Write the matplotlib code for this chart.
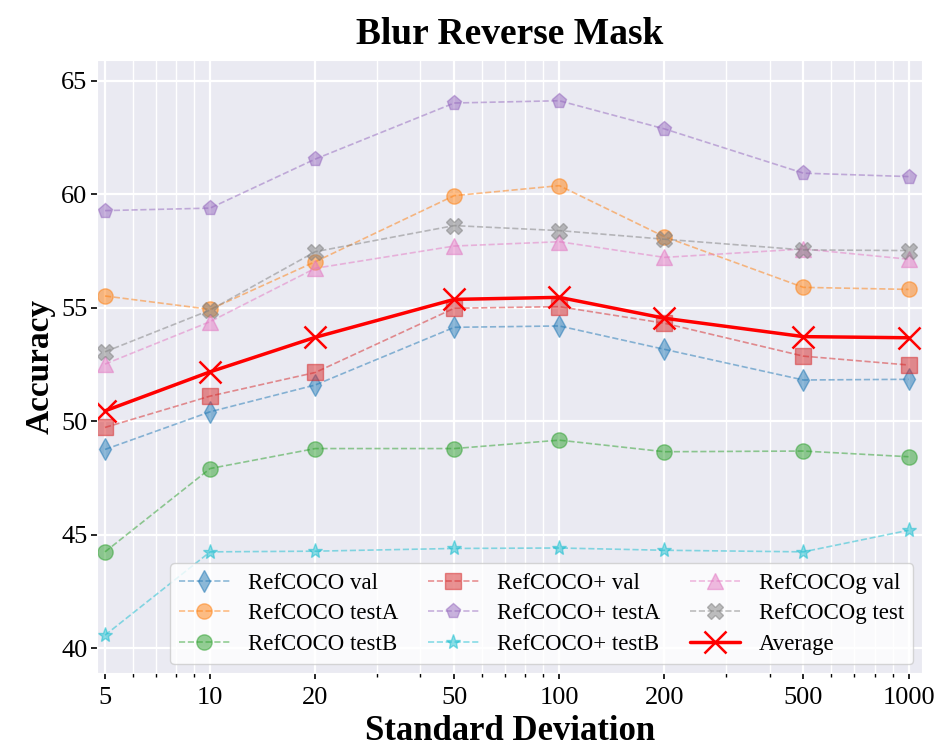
import numpy as np
import matplotlib
matplotlib.use("Agg")
import matplotlib.pyplot as plt
import seaborn as sns
from matplotlib.ticker import FixedLocator, NullFormatter, LogLocator

#------------------------------------------------------------------------------------
# Data
#------------------------------------------------------------------------------------
std_dev = [5, 10, 20, 50, 100, 200, 500, 1000]
tick_labels = ["5", "10", "20", "50", "100", "200", "500", "1000"]

refcoco_val    = [48.76, 50.42, 51.60, 54.14, 54.20, 53.17, 51.82, 51.85]
refcoco_testA  = [55.52, 54.93, 57.03, 59.94, 60.38, 58.13, 55.90, 55.81]
refcoco_testB  = [44.25, 47.92, 48.80, 48.80, 49.17, 48.66, 48.69, 48.44]
refcocop_val   = [49.73, 51.11, 52.15, 54.98, 55.05, 54.32, 52.87, 52.48]
refcocop_testA = [59.28, 59.39, 61.55, 64.02, 64.12, 62.88, 60.93, 60.78]
refcocop_testB = [40.58, 44.25, 44.28, 44.40, 44.42, 44.32, 44.25, 45.20]
refcocog_val   = [52.52, 54.39, 56.74, 57.72, 57.91, 57.22, 57.59, 57.14]
refcocog_test  = [53.06, 54.90, 57.47, 58.62, 58.40, 58.02, 57.55, 57.52]
average        = [50.46, 52.18, 53.70, 55.37, 55.46, 54.54, 53.73, 53.68]

#------------------------------------------------------------------------------------
# Style
#------------------------------------------------------------------------------------
sns.set_style("darkgrid")
plt.rcParams['font.family'] = ['Liberation Serif', 'DejaVu Serif']
plt.rcParams['text.color'] = 'black'
plt.rcParams['axes.labelcolor'] = 'black'
plt.rcParams['xtick.color'] = 'black'
plt.rcParams['ytick.color'] = 'black'

series = [
    ("RefCOCO val",    refcoco_val,    "tab:blue",   "d"),
    ("RefCOCO testA",  refcoco_testA,  "tab:orange", "o"),
    ("RefCOCO testB",  refcoco_testB,  "tab:green",  "o"),
    ("RefCOCO+ val",   refcocop_val,   "tab:red",    "s"),
    ("RefCOCO+ testA", refcocop_testA, "tab:purple", "p"),
    ("RefCOCO+ testB", refcocop_testB, "tab:cyan",   "*"),
    ("RefCOCOg val",   refcocog_val,   "tab:pink",   "^"),
    ("RefCOCOg test",  refcocog_test,  "tab:gray",   "X"),
]

fig = plt.figure(figsize=(9.44, 7.54), dpi=100)
ax = fig.add_axes([0.103, 0.107, 0.874, 0.813])

for name, vals, col, mk in series:
    ax.plot(std_dev, vals, linestyle='--', color=col, marker=mk, markersize=11,
            linewidth=1.2, alpha=0.5, label=name)
ax.plot(std_dev, average, color='red', marker='x', markersize=16, markeredgewidth=1.8,
        linewidth=2.5, label="Average")

ax.set_xscale('log')
ax.set_xlim(4.75, 1095)
ax.set_ylim(38.9, 65.9)
ax.xaxis.set_major_locator(FixedLocator(std_dev))
ax.set_xticklabels(tick_labels)
ax.xaxis.set_minor_locator(LogLocator(base=10, subs=np.arange(2, 10)))
ax.xaxis.set_minor_formatter(NullFormatter())
ax.set_yticks([40, 45, 50, 55, 60, 65])

ax.grid(True, which='major', color='white', linewidth=1.6)
ax.grid(True, which='minor', axis='x', color='white', linewidth=1.0)
ax.tick_params(axis='both', which='major', labelsize=19, length=4, width=1.2,
               color='black', direction='out', pad=3, bottom=True, left=True)
ax.tick_params(axis='x', which='minor', length=3, width=1.0, color='black', bottom=True)
ax.tick_params(axis='x', which='major', pad=6)

ax.set_title("Blur Reverse Mask", fontsize=27, fontweight='bold', pad=12)
ax.set_xlabel("Standard Deviation", fontsize=25, fontweight='bold', labelpad=4)
ax.set_ylabel("Accuracy", fontsize=24, fontweight='bold', labelpad=4)

ax.legend(loc='lower right', ncol=3, fontsize=16.5, frameon=True, framealpha=0.8,
          facecolor='white', edgecolor='#cccccc', borderaxespad=0.4,
          handlelength=2.2, columnspacing=1.3, labelspacing=0.42)

fig.savefig("out.png", dpi=100)
